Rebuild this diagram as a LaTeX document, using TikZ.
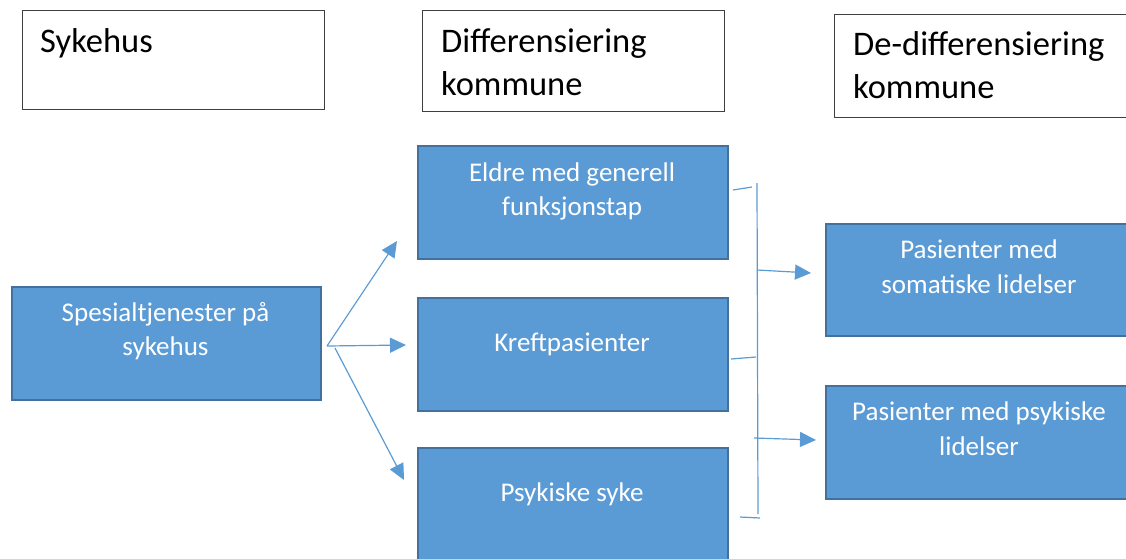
\documentclass[tikz,border=0pt]{standalone}
\usepackage{fontspec}
\setmainfont{Carlito}
\usetikzlibrary{arrows.meta}
\definecolor{boxfill}{HTML}{5B9BD5}
\definecolor{boxline}{HTML}{41719C}
\definecolor{linkcol}{HTML}{5B9BD5}
\definecolor{frame}{HTML}{3F3F3F}
\begin{document}
\begin{tikzpicture}[x=1pt,y=-1pt,
  header/.style={draw=frame,line width=1.2pt,fill=white,anchor=north west,inner sep=0pt},
  headtext/.style={anchor=base west,inner sep=0pt,align=left,font=\fontsize{34.5}{43.5}\selectfont,text=black},
  bluebox/.style={draw=boxline,line width=1.6pt,fill=boxfill,anchor=north west,inner sep=0pt},
  bluetext/.style={anchor=base,inner sep=0pt,align=center,font=\fontsize{27}{34.5}\selectfont,text=white},
  link/.style={draw=linkcol,line width=1.2pt},
  arrow/.style={link,-{Triangle[length=16pt,width=15pt]}}]
\useasboundingbox (0,0) rectangle (1126,558);
\clip (0,0) rectangle (1126,558);

% column headings (base anchor sits on the last line)
\node[header,minimum width=302pt,minimum height=99pt] (hsyk) at (22,10) {};
\node[headtext] (hsyktxt) at (40,52) {Sykehus};
\node[header,minimum width=302pt,minimum height=101pt] (hdiff) at (422,10) {};
\node[headtext] (hdifftxt) at (441,95.5) {Differensiering\\kommune};
\node[header,minimum width=320pt,minimum height=103pt] (hdediff) at (834,14) {};
\node[headtext] (hdedifftxt) at (853,98.5) {De-differensiering\\kommune};

% service boxes
\node[bluebox,minimum width=309pt,minimum height=113pt] (spes) at (11,286) {};
\node[bluetext] (spestxt) at (165.5,355.5) {Spesialtjenester på\\sykehus};

\node[bluebox,minimum width=310pt,minimum height=113pt] (eldre) at (417,145) {};
\node[bluetext] (eldretxt) at (572,215.5) {Eldre med generell\\funksjonstap};

\node[bluebox,minimum width=310pt,minimum height=113pt] (kreft) at (417,297) {};
\node[bluetext] (krefttxt) at (572,351) {Kreftpasienter};

\node[bluebox,minimum width=310pt,minimum height=130pt] (psyk) at (417,447) {};
\node[bluetext] (psyktxt) at (572,501) {Psykiske syke};

\node[bluebox,minimum width=320pt,minimum height=112pt] (soma) at (825,223) {};
\node[bluetext] (somatxt) at (979,293) {Pasienter med\\somatiske lidelser};

\node[bluebox,minimum width=320pt,minimum height=113pt] (pspas) at (825,385) {};
\node[bluetext] (pspastxt) at (979,455) {Pasienter med psykiske\\lidelser};

% fan-out from the hospital
\coordinate (hub) at (327,346);
\coordinate (hubb) at (335,348);
\coordinate (toeldre) at (397,241);
\coordinate (tokreft) at (406,345);
\coordinate (topsyk) at (404,480);
\draw[arrow] (hub) -- (toeldre);
\draw[arrow] (hub) -- (tokreft);
\draw[arrow] (hubb) -- (topsyk);

% bracket gathering the three groups
\coordinate (brtop) at (757,183);
\coordinate (brbot) at (758,514);
\draw[link] (brtop) -- (brbot);
\coordinate (tka) at (733,190); \coordinate (tkb) at (752,187);
\coordinate (tkc) at (731,359); \coordinate (tkd) at (756,357);
\coordinate (tke) at (740,517); \coordinate (tkf) at (760,518);
\draw[link] (tka) -- (tkb);
\draw[link] (tkc) -- (tkd);
\draw[link] (tke) -- (tkf);
\coordinate (outa) at (757,270); \coordinate (tosoma) at (811,273);
\coordinate (outb) at (754,438); \coordinate (topspas) at (816,440);
\draw[arrow] (outa) -- (tosoma);
\draw[arrow] (outb) -- (topspas);
\end{tikzpicture}
\end{document}
